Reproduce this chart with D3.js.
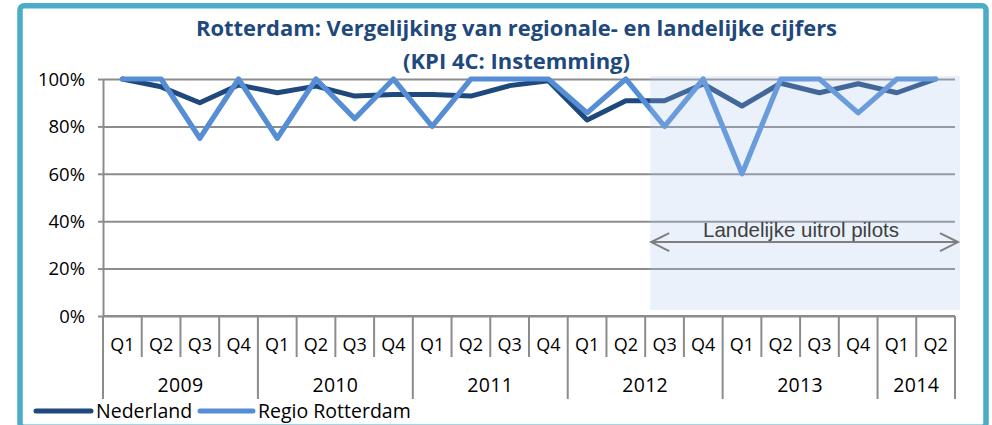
<!DOCTYPE html>
<html>
<head>
<meta charset="utf-8">
<script src="https://cdn.jsdelivr.net/npm/d3@7"></script>
<style>
  html, body { margin: 0; padding: 0; background: #ffffff; }
  svg { display: block; font-family: "Open Sans", "Noto Sans", sans-serif; }
</style>
</head>
<body>
<svg id="chart" width="992" height="425"></svg>
<script>
// Quarterly categories, grouped by year
const quarters = ["Q1","Q2","Q3","Q4","Q1","Q2","Q3","Q4","Q1","Q2","Q3","Q4",
                  "Q1","Q2","Q3","Q4","Q1","Q2","Q3","Q4","Q1","Q2"];
const years = ["2009","2010","2011","2012","2013","2014"];
const quartersPerYear = [4,4,4,4,4,2];

// Share of "instemming" per quarter
const nederland = [1.00,0.967,0.90,0.975,0.942,0.97,0.928,0.935,0.935,0.928,0.972,0.993,
                   0.827,0.908,0.908,0.979,0.886,0.982,0.942,0.98,0.942,1.00];
const regio     = [1.00,1.00,0.75,1.00,0.75,1.00,0.833,1.00,0.80,1.00,1.00,1.00,
                   0.857,1.00,0.80,1.00,0.60,1.00,1.00,0.857,1.00,1.00];

const yTicks = [0,0.2,0.4,0.6,0.8,1.0];
const seriesNames = ["Nederland","Regio Rotterdam"];
const pilotStart = 14;           // first quarter of the national roll-out (2012 Q3)
const pilotLabel = "Landelijke uitrol pilots";

const colors = { ned: "#1f497d", reg: "#558ed5", grid: "#8c8c8c", frame: "#4bacc6", title: "#1f497d" };

const svg = d3.select("#chart");
const plot = { left: 103, right: 955, top: 79, bottom: 316 };

const x = d3.scaleBand().domain(d3.range(quarters.length)).range([plot.left, plot.right]).padding(0);
const y = d3.scaleLinear().domain([0, 1]).range([plot.bottom, plot.top]);
const cx = i => x(i) + x.bandwidth() / 2;

// Outer frame
svg.append("rect")
  .attr("x", 20).attr("y", 5.8).attr("width", 966).attr("height", 421.5)
  .attr("rx", 4).attr("fill", "#ffffff")
  .attr("stroke", colors.frame).attr("stroke-width", 5.5);

// Title
const title = svg.append("g").attr("fill", colors.title).attr("font-weight", 700).attr("font-size", 21)
  .attr("text-anchor", "middle");
title.append("text").attr("x", 516.5).attr("y", 36)
  .attr("textLength", 641).attr("lengthAdjust", "spacingAndGlyphs")
  .text("Rotterdam: Vergelijking van regionale- en landelijke cijfers");
title.append("text").attr("x", 516.5).attr("y", 69)
  .attr("textLength", 227).attr("lengthAdjust", "spacingAndGlyphs")
  .text("(KPI 4C: Instemming)");

// Horizontal gridlines and y axis
const yAxis = d3.axisLeft(y).tickValues(yTicks).tickFormat(d3.format(".0%"))
  .tickSize(5).tickSizeOuter(0).tickPadding(13);
const gy = svg.append("g").attr("transform", `translate(${plot.left},0)`).call(yAxis);
gy.select(".domain").attr("stroke", colors.grid).attr("stroke-width", 2);
gy.selectAll(".tick line").attr("stroke", colors.grid).attr("stroke-width", 2);
gy.selectAll(".tick text").attr("font-size", 18.5).attr("fill", "#000").attr("dy", "0.34em")
  .style("font-family", "\"Open Sans\", sans-serif");
gy.selectAll(".tick").append("line")
  .attr("x1", 0).attr("x2", plot.right - plot.left)
  .attr("stroke", colors.grid).attr("stroke-width", 2);

// Category axis: quarter separators and year groups
const gx = svg.append("g");
gx.append("line").attr("x1", plot.left).attr("x2", plot.right)
  .attr("y1", plot.bottom).attr("y2", plot.bottom)
  .attr("stroke", colors.grid).attr("stroke-width", 2);

const yearStarts = [];
quartersPerYear.reduce((acc, n) => { yearStarts.push(acc); return acc + n; }, 0);
const boundaries = d3.range(quarters.length + 1);
gx.selectAll("line.sep").data(boundaries).join("line").attr("class", "sep")
  .attr("x1", i => i < quarters.length ? x(i) : plot.right)
  .attr("x2", i => i < quarters.length ? x(i) : plot.right)
  .attr("y1", plot.bottom)
  .attr("y2", i => (yearStarts.includes(i) || i === quarters.length) ? 399 : 357)
  .attr("stroke", colors.grid).attr("stroke-width", 2);

gx.selectAll("text.q").data(quarters).join("text").attr("class", "q")
  .attr("x", (d, i) => cx(i)).attr("y", 351)
  .attr("text-anchor", "middle").attr("font-size", 18).attr("fill", "#000")
  .text(d => d);

gx.selectAll("text.yr").data(years).join("text").attr("class", "yr")
  .attr("x", (d, i) => {
    const a = x(yearStarts[i]);
    const last = yearStarts[i] + quartersPerYear[i] - 1;
    const b = x(last) + x.bandwidth();
    return (a + b) / 2;
  })
  .attr("y", 392).attr("text-anchor", "middle").attr("font-size", 19.5)
  .attr("letter-spacing", 0.3).attr("fill", "#000")
  .text(d => d);

// Series lines
const line = d3.line().x((d, i) => cx(i)).y(d => y(d));
svg.append("path").datum(nederland).attr("d", line)
  .attr("fill", "none").attr("stroke", colors.ned).attr("stroke-width", 5)
  .attr("stroke-linejoin", "round").attr("stroke-linecap", "round");
svg.append("path").datum(regio).attr("d", line)
  .attr("fill", "none").attr("stroke", colors.reg).attr("stroke-width", 5.2)
  .attr("stroke-linejoin", "round").attr("stroke-linecap", "round");

// Roll-out period highlight with double arrow
const shadeX0 = x(pilotStart) + 5;
const shadeX1 = plot.right + 5;
svg.append("rect")
  .attr("x", shadeX0).attr("y", y(1) - 3)
  .attr("width", shadeX1 - shadeX0).attr("height", (y(0) - 6) - (y(1) - 3))
  .attr("fill", "rgb(170,198,238)").attr("fill-opacity", 0.25);

const ay = y(0.312);
const arrow = svg.append("g").attr("stroke", "#7f7f7f").attr("stroke-width", 2).attr("fill", "none");
arrow.append("line").attr("x1", shadeX0 + 1).attr("x2", plot.right + 3).attr("y1", ay).attr("y2", ay);
arrow.append("path").attr("d", `M${shadeX0 + 19},${ay - 9} L${shadeX0 + 1},${ay} L${shadeX0 + 19},${ay + 9}`);
arrow.append("path").attr("d", `M${plot.right - 15},${ay - 9} L${plot.right + 3},${ay} L${plot.right - 15},${ay + 9}`);

svg.append("text")
  .attr("x", 801).attr("y", ay - 5.5)
  .attr("text-anchor", "middle").attr("font-size", 20.5)
  .style("font-family", "\"Liberation Sans\", Arial, sans-serif")
  .attr("fill", "#404040")
  .text(pilotLabel);

// Legend
const legend = svg.append("g");
const legendItems = [
  { name: seriesNames[0], color: colors.ned, x0: 36, x1: 91, tx: 96 },
  { name: seriesNames[1], color: colors.reg, x0: 200, x1: 253, tx: 258 }
];
legendItems.forEach(d => {
  legend.append("line").attr("x1", d.x0).attr("x2", d.x1).attr("y1", 411).attr("y2", 411)
    .attr("stroke", d.color).attr("stroke-width", 5).attr("stroke-linecap", "round");
  legend.append("text").attr("x", d.tx).attr("y", 417.5).attr("font-size", 19.5).attr("fill", "#000")
    .text(d.name);
});
</script>
</body>
</html>
